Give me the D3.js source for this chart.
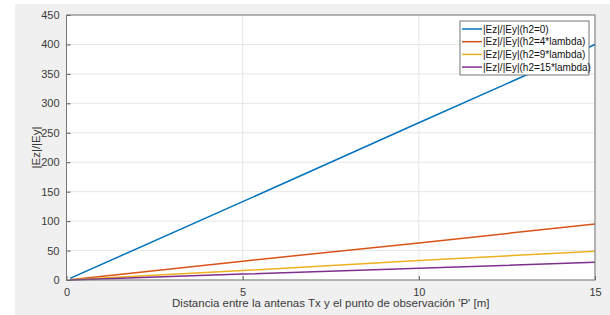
<!DOCTYPE html>
<html>
<head>
<meta charset="utf-8">
<script src="https://cdn.jsdelivr.net/npm/d3@7"></script>
<style>
  body { margin: 0; background: #fff; }
  svg { display: block; font-family: 'Liberation Sans', Arial, sans-serif; }
</style>
</head>
<body>
<div id="content"></div>
<script>
'use strict';

// distancia [m]
var distances = [0.1, 5, 10, 15]
// |Ez|/|Ey|
var seriesH0 = [2.7, 133, 267, 400]
var seriesH4 = [0.6, 32, 63, 95]
var seriesH9 = [0.3, 16, 33, 49]
var seriesH15 = [0.2, 10, 20, 30]
var seriesNames = ['|Ez|/|Ey|(h2=0)', '|Ez|/|Ey|(h2=4*lambda)', '|Ez|/|Ey|(h2=9*lambda)', '|Ez|/|Ey|(h2=15*lambda)']
var xTicks = [0, 5, 10, 15]
var yTicks = [0, 50, 100, 150, 200, 250, 300, 350, 400, 450]

var colors = ['#0072BD', '#D95319', '#EDB120', '#7E2F8E']
var allSeries = [seriesH0, seriesH4, seriesH9, seriesH15]

var W = 610, H = 315
var pLeft = 66.5, pTop = 15, pRight = 595, pBottom = 280

var svg = d3.select('#content').append('svg').attr('width', W).attr('height', H)

// fondo de la figura
svg.append('rect').attr('x', 15).attr('y', 4).attr('width', W - 15).attr('height', H - 4).style('fill', '#f0f0f0')
svg.append('rect').attr('x', pLeft).attr('y', pTop).attr('width', pRight - pLeft).attr('height', pBottom - pTop).style('fill', '#fff')

var x = d3.scaleLinear().domain([0, 15]).range([pLeft, pRight])
var y = d3.scaleLinear().domain([0, 450]).range([pBottom, pTop])

// grid
svg.append('g').selectAll('line').data(xTicks).enter().append('line')
    .attr('x1', function(d) { return x(d) }).attr('x2', function(d) { return x(d) })
    .attr('y1', pTop).attr('y2', pBottom)
    .style('stroke', '#e6e6e6').style('stroke-width', 1)
svg.append('g').selectAll('line').data(yTicks).enter().append('line')
    .attr('y1', function(d) { return y(d) }).attr('y2', function(d) { return y(d) })
    .attr('x1', pLeft).attr('x2', pRight)
    .style('stroke', '#e6e6e6').style('stroke-width', 1)

// lineas
var line = d3.line()
    .x(function(d, i) { return x(distances[i]) })
    .y(function(d) { return y(d) })
allSeries.forEach(function(s, k) {
    svg.append('path').datum(s).attr('d', line)
        .style('fill', 'none').style('stroke', colors[k]).style('stroke-width', 1.5)
})

// ejes (ticks hacia dentro como en matlab)
var xAxis = d3.axisBottom(x).tickValues(xTicks).tickSize(-4).tickPadding(8).tickFormat(d3.format('d'))
var yAxis = d3.axisLeft(y).tickValues(yTicks).tickSize(-4).tickPadding(7).tickFormat(d3.format('d'))
var gx = svg.append('g').attr('transform', 'translate(0,' + pBottom + ')').call(xAxis)
var gy = svg.append('g').attr('transform', 'translate(' + pLeft + ',0)').call(yAxis)
;[gx, gy].forEach(function(g) {
    g.select('.domain').remove()
    g.selectAll('line').style('stroke', '#555')
    g.selectAll('text').style('font-size', '11px').style('fill', '#3a3a3a').style('font-family', "'Liberation Sans', Arial, sans-serif")
})
// caja
svg.append('rect').attr('x', pLeft).attr('y', pTop).attr('width', pRight - pLeft).attr('height', pBottom - pTop)
    .style('fill', 'none').style('stroke', '#777').style('stroke-width', 1)

// etiquetas
svg.append('text').attr('x', (pLeft + pRight) / 2).attr('y', 307).attr('text-anchor', 'middle')
    .style('font-size', '11.5px').style('fill', '#3a3a3a')
    .text("Distancia entre la antenas Tx y el punto de observación 'P' [m]")
svg.append('text').attr('transform', 'translate(40,' + ((pTop + pBottom) / 2) + ') rotate(-90)').attr('text-anchor', 'middle')
    .style('font-size', '11.5px').style('fill', '#3a3a3a')
    .text('|Ez|/|Ey|')

// leyenda
var lg = svg.append('g').attr('transform', 'translate(460,21)')
lg.append('rect').attr('width', 129).attr('height', 54).style('fill', '#fff').style('stroke', '#777').style('stroke-width', 1)
seriesNames.forEach(function(n, k) {
    var yy = 8 + k * 12.7
    lg.append('line').attr('x1', 2).attr('x2', 22).attr('y1', yy).attr('y2', yy)
        .style('stroke', colors[k]).style('stroke-width', 1.5)
    lg.append('text').attr('x', 23).attr('y', yy + 3.6).style('font-size', '10px').style('fill', '#111').text(n)
})
</script>
</body>
</html>
